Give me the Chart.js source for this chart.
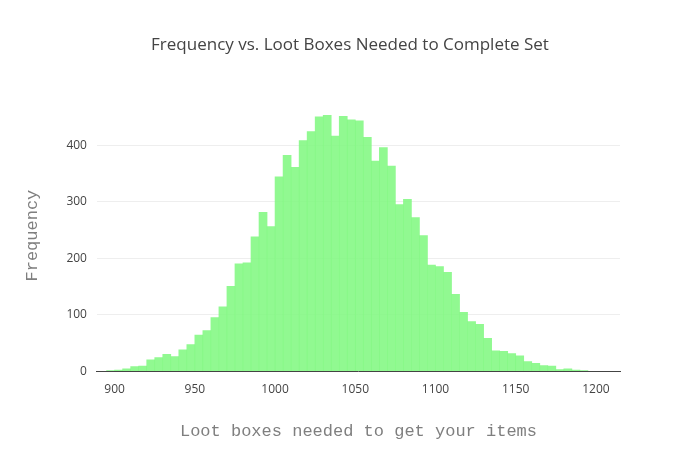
<!DOCTYPE html><html><head><script src="https://cdn.jsdelivr.net/npm/chart.js@4"></script>
<style>body{margin:0;background:#fff}#w{width:700px;height:450px;position:relative}#t{position:absolute;top:32px;left:0;width:700px;text-align:center;font-family:'Open Sans';font-size:17px;color:#444}</style></head><body><div id="w"><div id="t">Frequency vs. Loot Boxes Needed to Complete Set</div><canvas id="c"></canvas></div>
<script>
const binStarts=[895,900,905,910,915,920,925,930,935,940,945,950,955,960,965,970,975,980,985,990,995,1000,1005,1010,1015,1020,1025,1030,1035,1040,1045,1050,1055,1060,1065,1070,1075,1080,1085,1090,1095,1100,1105,1110,1115,1120,1125,1130,1135,1140,1145,1150,1155,1160,1165,1170,1175,1180,1185,1190];
const counts=[1,2,4,8,9,20,24,30,26,38,47,64,72,95,114,150,190,192,238,281,256,344,382,361,408,424,450,453,416,451,445,443,414,372,396,363,295,304,272,240,188,185,175,136,104,88,83,58,36,35,31,27,17,14,10,9,3,4,2,1];
const xTicks=[900,950,1000,1050,1100,1150,1200];
const yTicks=[0,100,200,300,400];
const pts=binStarts.map((b,i)=>({x:b+2.5,y:counts[i]}));
new Chart(document.getElementById('c'),{type:'bar',
data:{datasets:[{data:pts,backgroundColor:'rgba(130,248,130,0.88)',barPercentage:1,categoryPercentage:1,borderWidth:0}]},
options:{responsive:true,maintainAspectRatio:false,animation:false,
layout:{padding:{left:18,right:80,top:100,bottom:4}},
plugins:{legend:{display:false},tooltip:{enabled:false}},
scales:{x:{type:'linear',offset:false,min:889,max:1215,afterBuildTicks:a=>{a.ticks=xTicks.map(v=>({value:v}))},
grid:{display:false},border:{color:'#444'},ticks:{color:'#444',callback:v=>String(v),font:{family:'Open Sans',size:12}},
title:{display:true,text:'Loot boxes needed to get your items',color:'#7f7f7f',font:{family:'Liberation Mono',size:17},padding:{top:22}}},
y:{min:0,max:480,afterBuildTicks:a=>{a.ticks=yTicks.map(v=>({value:v}))},
grid:{color:'#eee',drawTicks:false},border:{display:false},ticks:{color:'#444',padding:10,font:{family:'Open Sans',size:12}},
title:{display:true,text:'Frequency',color:'#7f7f7f',font:{family:'Liberation Mono',size:17},padding:{bottom:14}}}}}});
</script></body></html>
